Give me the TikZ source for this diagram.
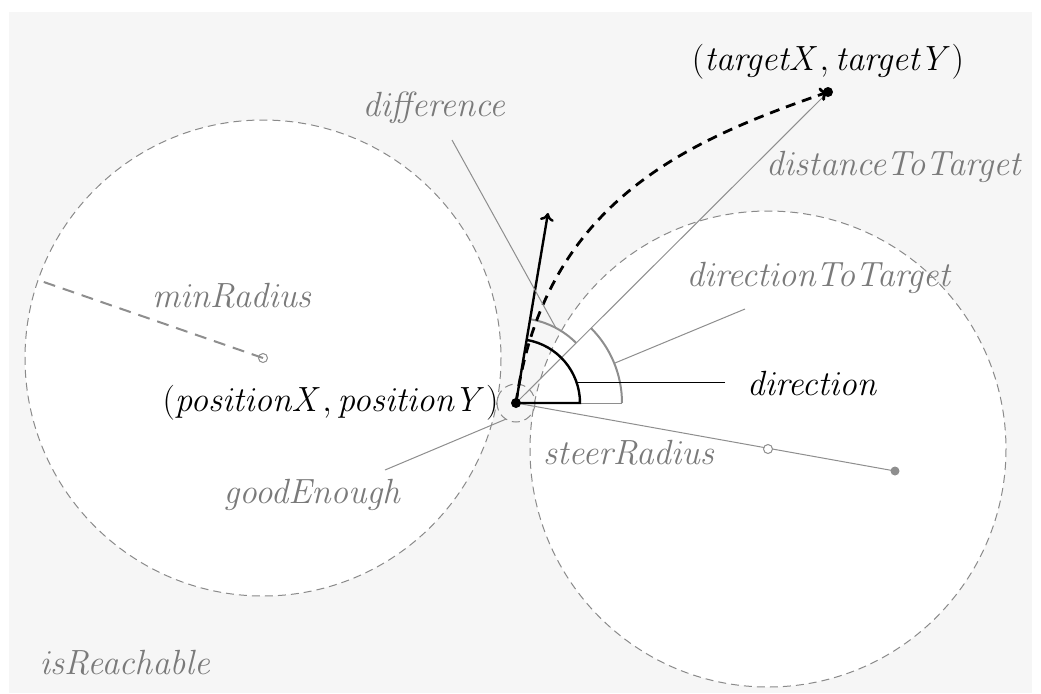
\documentclass[tikz,border=0pt]{standalone}
\usepackage{fix-cm}
\usetikzlibrary{arrows.meta,calc}
\definecolor{bggray}{HTML}{F6F6F6}
\definecolor{labelgray}{HTML}{7A7A7A}
\definecolor{linegray}{HTML}{8E8E8E}
\definecolor{circgray}{HTML}{8A8A8A}
\newcommand{\vv}[1]{\mathit{#1}}
\begin{document}
\begin{tikzpicture}[x=0.5pt,y=-0.5pt,
  lbl/.style={font=\fontsize{17.5}{21}\selectfont, text=labelgray, inner sep=0pt},
  blbl/.style={font=\fontsize{17.5}{21}\selectfont, text=black, inner sep=0pt},
  thinline/.style={draw=linegray, line width=0.5pt},
  circline/.style={draw=circgray, line width=0.5pt, dash pattern=on 4pt off 2.5pt},
  grayarc/.style={draw=linegray, line width=1pt},
  blackline/.style={draw=black, line width=1.2pt}]
\useasboundingbox (0,0) rectangle (1041,693);
\fill[bggray] (9,12) rectangle (1032,693);
% points
\coordinate (P) at (516,403);
\coordinate (T) at (828,92);
\coordinate (LC) at (263,358);
\coordinate (RC) at (768,449);
\coordinate (SE) at (895,471);
\coordinate (DIR) at (548,213);
\coordinate (MR) at (38,280);
% reachable circles
\fill[white] (LC) circle[radius=238];
\fill[white] (RC) circle[radius=238];
\draw[circline] (LC) circle[radius=238];
\draw[circline] (RC) circle[radius=238];
\draw[circline] (P) circle[radius=19];
% min radius
\draw[draw=linegray, line width=1pt, dash pattern=on 6pt off 4pt] (LC) -- (MR);
\draw[linegray, line width=0.5pt] (LC) circle[radius=4.5];
% steer radius
\draw[thinline] (P) -- (SE);
\fill[white] (RC) circle[radius=4.5];
\draw[linegray, line width=0.5pt] (RC) circle[radius=4.5];
\fill[linegray] (SE) circle[radius=4.5];
% distance to target
\draw[thinline] (P) -- (T);
% direction to target angle
\draw[thinline] (P) -- ++(106,0);
\draw[grayarc] ($(P)+(106,0)$) arc[start angle=0, end angle=-45, radius=106];
% difference angle
\draw[grayarc] ($(P)+(-45:85)$) arc[start angle=-45, end angle=-80.4, radius=85];
% direction angle
\draw[blackline] (P) -- ++(64,0) arc[start angle=0, end angle=-80.4, radius=64];
% direction arrow
\draw[blackline, -{To[length=4pt,width=7pt]}] (P) -- (DIR);
% dashed path
\draw[black, line width=1.4pt, dash pattern=on 5pt off 3.5pt, -{To[length=4pt,width=7pt]}]
  (P) .. controls (545,200) and (690,140) .. (T);
% points
\fill[black] (P) circle[radius=5];
\fill[black] (T) circle[radius=5];
% labels
\node[blbl] (tgtlbl) at (828,62) {$(\vv{targetX},\vv{targetY})$};
\node[blbl, anchor=east] (poslbl) at (499,403) {$(\vv{positionX},\vv{positionY})$};
\node[lbl] (difflbl) at (435,108) {$\vv{difference}$};
\node[lbl] (distlbl) at (895,167) {$\vv{distanceToTarget}$};
\node[lbl] (dtlbl) at (820,278) {$\vv{directionToTarget}$};
\node[blbl] (dirlbl) at (813,383) {$\vv{direction}$};
\node[lbl] (mrlbl) at (233,295) {$\vv{minRadius}$};
\node[lbl] (srlbl) at (630,452) {$\vv{steerRadius}$};
\node[lbl] (gelbl) at (313,495) {$\vv{goodEnough}$};
\node[lbl] (irlbl) at (126,662) {$\vv{isReachable}$};
% label leaders
\coordinate (diffA) at (452,140);
\draw[thinline] (diffA) -- ($(P)+(-62:85)$);
\coordinate (dtA) at (745,309);
\draw[thinline] (dtA) -- ($(P)+(-22:106)$);
\coordinate (dirA) at (725,382);
\draw[draw=black, line width=0.5pt] (dirA) -- (577,382);
\coordinate (geA) at (385,470);
\draw[thinline] (geA) -- ($(P)+(122:19)$);
\end{tikzpicture}
\end{document}
